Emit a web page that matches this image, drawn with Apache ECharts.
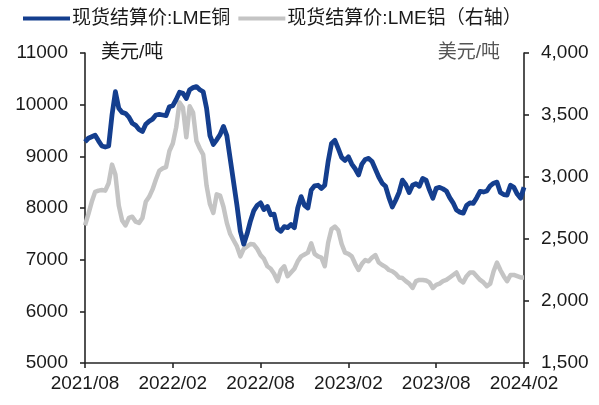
<!DOCTYPE html>
<html>
<head>
<meta charset="utf-8">
<script src="https://cdn.jsdelivr.net/npm/echarts@6/dist/echarts.min.js"></script>
<style>
  html, body { margin: 0; padding: 0; background: #fff; }
  #chart { width: 599px; height: 405px; }
</style>
</head>
<body>
<div id="chart"></div>
<script>
// Weekly LME spot settlement prices, Aug 2021 – Feb 2024 (USD/t)
const firstWeek = '2021-08-06';
const tickLabels = ['2021/08', '2022/02', '2022/08', '2023/02', '2023/08', '2024/02'];
const ticksEvery = 26; // weeks between labelled ticks

const copper = [
  9280, 9350, 9380, 9410, 9300, 9200, 9180, 9200, 9800, 10250,
  9930, 9850, 9830, 9760, 9640, 9600, 9520, 9480, 9620, 9680,
  9720, 9800, 9810, 9800, 9790, 9960, 9980, 10100, 10240, 10220,
  10120, 10290, 10330, 10350, 10290, 10250, 9930, 9400, 9230, 9320,
  9420, 9580, 9400, 8950, 8500, 8050, 7550, 7300, 7500, 7750,
  7950, 8050, 8100, 7970, 8030, 7870, 7880, 7600, 7550, 7640,
  7620, 7680, 7620, 8000, 8220, 8050, 8000, 8350, 8430, 8440,
  8380, 8440, 8900, 9250, 9310, 9150, 8980, 8920, 8990, 8850,
  8760, 8640, 8850, 8940, 8960, 8900, 8750, 8600, 8480, 8420,
  8200, 8020, 8150, 8300, 8540, 8450, 8300, 8440, 8470, 8420,
  8570, 8540, 8350, 8190, 8380, 8400, 8370, 8330, 8200, 8100,
  7960, 7920, 7900, 8050, 8100, 8090, 8200, 8320, 8310, 8330,
  8430, 8480, 8500, 8300, 8260, 8250, 8440, 8400, 8270, 8190,
  8400
];

const aluminium = [
  2610, 2700, 2800, 2880, 2890, 2895, 2890, 2950, 3100, 3020,
  2770, 2650, 2610, 2670, 2680, 2640, 2630, 2670, 2800, 2840,
  2900, 2980, 3050, 3070, 3080, 3210, 3270, 3400, 3600, 3560,
  3320, 3570, 3520, 3290, 3230, 3180, 2930, 2780, 2710, 2860,
  2850, 2760, 2630, 2540, 2490, 2440, 2360, 2420, 2440, 2460,
  2455, 2420, 2370, 2340, 2280, 2260, 2220, 2160, 2250, 2280,
  2200, 2230, 2260, 2320, 2360, 2375, 2390, 2465, 2380, 2360,
  2350, 2280, 2470, 2580, 2600, 2570, 2460, 2390, 2380, 2360,
  2300, 2250, 2300, 2330, 2320, 2350, 2370, 2310, 2290, 2275,
  2250, 2240, 2220, 2190, 2185, 2160, 2140, 2105, 2160, 2170,
  2170, 2165, 2150, 2105, 2130, 2140, 2160, 2170, 2190, 2210,
  2230, 2170, 2150, 2200, 2230, 2230, 2200, 2170, 2150, 2120,
  2140, 2240, 2310, 2250, 2200, 2160, 2210, 2210, 2200, 2190,
  2190
];

const copperName = '现货结算价:LME铜';
const aluminiumName = '现货结算价:LME铝（右轴）';

// Build the weekly date categories
const weeks = [];
{
  const d = new Date(firstWeek + 'T00:00:00Z');
  for (let i = 0; i < copper.length; i++) {
    const t = new Date(d.getTime() + i * 7 * 86400000);
    weeks.push(t.toISOString().slice(0, 10));
  }
}

const FONT = '"Liberation Sans", Arial, "Noto Sans CJK SC", sans-serif';
const TEXT = '#1a1a1a';
const AXIS = '#262626';
const BLUE = '#143e8e';
const GREY = '#c4c4c4';

const isTick = (idx) => idx % ticksEvery === 0;

const chart = echarts.init(document.getElementById('chart'), null, { renderer: 'canvas' });
chart.setOption({
  animation: false,
  backgroundColor: '#ffffff',
  textStyle: { fontFamily: FONT },
  legend: {
    left: 18,
    top: 4,
    itemWidth: 47,
    itemHeight: 4,
    itemGap: 8,
    icon: 'rect',
    textStyle: { fontSize: 19, color: TEXT, fontFamily: FONT, padding: [0, 0, 0, -3] },
    data: [copperName, aluminiumName]
  },
  grid: { left: 85, right: 75, top: 53, bottom: 42, containLabel: false },
  xAxis: {
    type: 'category',
    data: weeks,
    boundaryGap: false,
    axisLine: { lineStyle: { color: AXIS, width: 1.6 } },
    axisTick: { interval: (i) => isTick(i), length: 5, lineStyle: { color: AXIS, width: 1.6 } },
    axisLabel: {
      interval: (i) => isTick(i),
      formatter: (v, i) => tickLabels[i / ticksEvery],
      fontSize: 19,
      color: TEXT,
      margin: 11,
      fontFamily: FONT
    },
    splitLine: { show: false }
  },
  yAxis: [
    {
      type: 'value',
      min: 5000,
      max: 11000,
      interval: 1000,
      name: '美元/吨',
      nameLocation: 'end',
      nameGap: 0,
      nameTextStyle: {
        fontSize: 19, color: TEXT, fontFamily: FONT,
        align: 'left', verticalAlign: 'middle', padding: [0, 0, 0, 16]
      },
      axisLine: { show: true, lineStyle: { color: AXIS, width: 1.6 } },
      axisTick: { show: true, length: 5, lineStyle: { color: AXIS, width: 1.6 } },
      axisLabel: {
        fontSize: 19, color: TEXT, margin: 17, fontFamily: FONT,
        formatter: (v) => String(v)
      },
      splitLine: { show: false }
    },
    {
      type: 'value',
      min: 1500,
      max: 4000,
      interval: 500,
      name: '美元/吨',
      nameLocation: 'end',
      nameGap: 0,
      nameTextStyle: {
        fontSize: 19, color: '#555555', fontFamily: FONT,
        align: 'right', verticalAlign: 'middle', padding: [0, 24, 0, 0]
      },
      axisLine: { show: true, lineStyle: { color: AXIS, width: 1.6 } },
      axisTick: { show: true, length: 5, lineStyle: { color: AXIS, width: 1.6 } },
      axisLabel: {
        fontSize: 19, color: TEXT, margin: 17, fontFamily: FONT,
        formatter: (v) => v.toLocaleString('en-US')
      },
      splitLine: { show: false }
    }
  ],
  series: [
    {
      name: copperName,
      type: 'line',
      yAxisIndex: 0,
      data: copper,
      showSymbol: false,
      smooth: false,
      z: 3,
      color: BLUE,
      lineStyle: { color: BLUE, width: 4.8, join: 'round' }
    },
    {
      name: aluminiumName,
      type: 'line',
      yAxisIndex: 1,
      data: aluminium,
      showSymbol: false,
      smooth: false,
      z: 2,
      color: GREY,
      lineStyle: { color: GREY, width: 4.5, join: 'round' }
    }
  ]
});
</script>
</body>
</html>
